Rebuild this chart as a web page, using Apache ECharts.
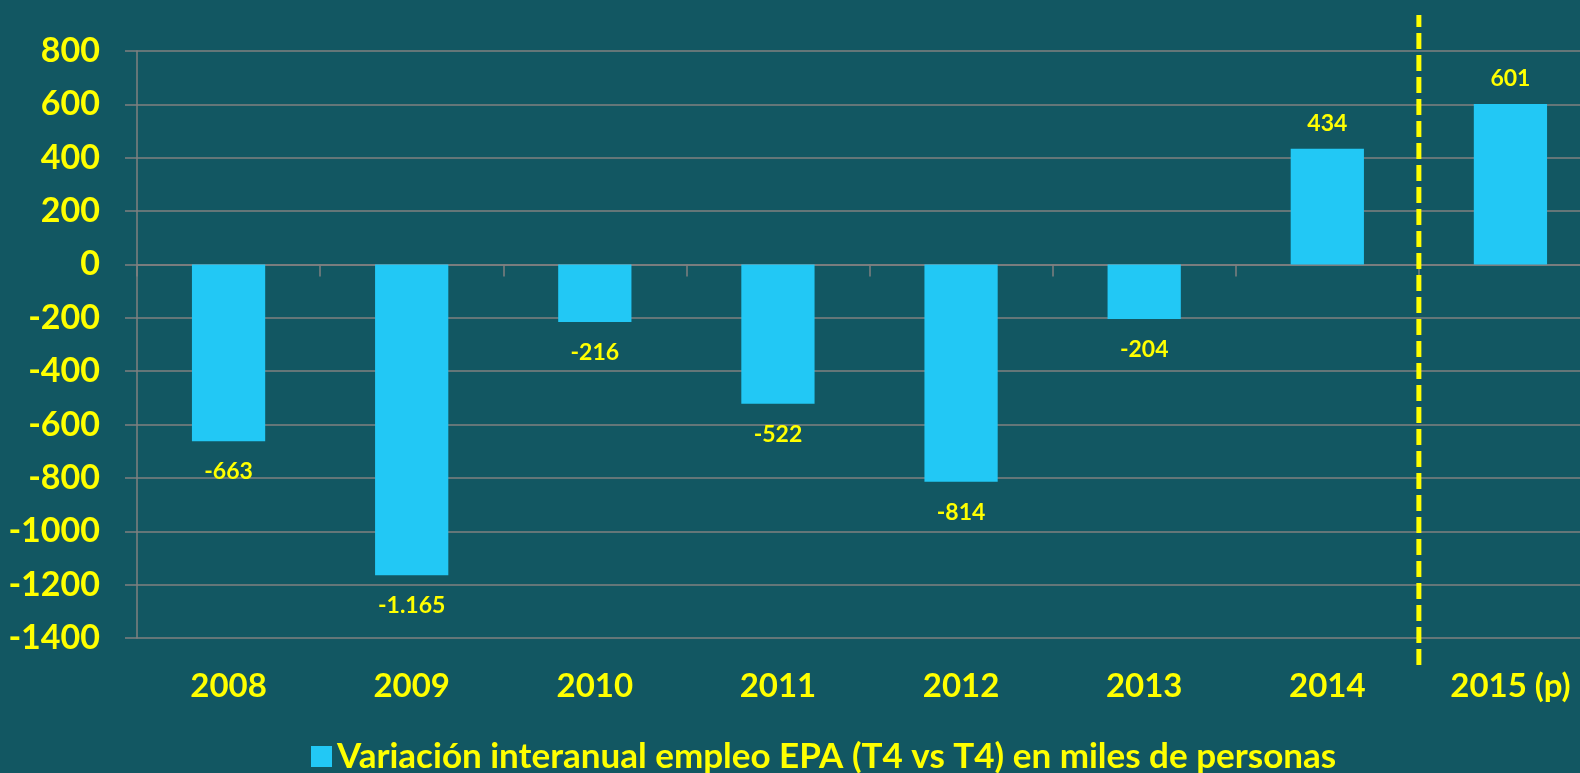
<!DOCTYPE html>
<html>
<head>
<meta charset="utf-8">
<script src="https://cdn.jsdelivr.net/npm/echarts@6/dist/echarts.min.js"></script>
<style>
  html, body { margin: 0; padding: 0; background: #125762; }
  #empleo { width: 1580px; height: 773px; }
</style>
</head>
<body>
<div id="empleo"></div>
<script>
var years = ['2008', '2009', '2010', '2011', '2012', '2013', '2014', '2015 (p)'];
var variacion = [-663, -1165, -216, -522, -814, -204, 434, 601];
var serieName = 'Variación interanual empleo EPA (T4 vs T4) en miles de personas';
// dashed divider sits before the forecast year
var dividerAt = years.indexOf('2015 (p)');

var amarillo = '#ffff00';
var gris = '#808080';
var fuente = 'Lato';

function miles(v) {
    var s = String(Math.abs(v)).replace(/\B(?=(\d{3})+(?!\d))/g, '.');
    return (v < 0 ? '-' : '') + s;
}

var empleoChart = echarts.init(document.getElementById('empleo'));

// negative labels sit a bit further from the bar end
var barData = variacion.map(function (v) {
    return { value: v, label: { distance: v < 0 ? 19 : 14 } };
});

option = {
    backgroundColor: '#125762',
    animation: false,
    textStyle: { fontFamily: fuente },
    grid: [
        { left: 137, width: 1465, top: 51, bottom: 135, outerBoundsMode: 'none' },
        // taller grid, only used for the dashed divider
        { left: 137, width: 1465, top: 15, bottom: 108, outerBoundsMode: 'none' }
    ],
    legend: {
        left: 306,
        top: 734,
        itemWidth: 21,
        itemHeight: 21,
        itemGap: 9,
        icon: 'rect',
        textStyle: { color: amarillo, fontSize: 35, fontWeight: 'bold', fontFamily: fuente },
        data: [serieName]
    },
    xAxis: [{
        type: 'category',
        data: years,
        gridIndex: 0,
        position: 'bottom',
        axisLine: { show: false, onZero: false },
        axisTick: { show: false },
        axisLabel: { color: amarillo, fontSize: 33, fontWeight: 'bold', margin: 32 }
    }, {
        type: 'category',
        data: years,
        gridIndex: 0,
        position: 'bottom',
        axisLine: { show: true, onZero: true, lineStyle: { color: gris, width: 1.5 } },
        axisTick: { show: true, length: 12, lineStyle: { color: gris, width: 1.5 } },
        axisLabel: { show: false }
    }, {
        type: 'value',
        gridIndex: 1,
        min: 0,
        max: years.length,
        show: false
    }],
    yAxis: [{
        type: 'value',
        gridIndex: 0,
        min: -1400,
        max: 800,
        interval: 200,
        axisLine: { show: true, lineStyle: { color: gris, width: 1.5 } },
        axisTick: { show: true, length: 12, lineStyle: { color: gris, width: 1.5 } },
        splitLine: { show: true, lineStyle: { color: gris, width: 1.5 } },
        axisLabel: {
            color: amarillo, fontSize: 34, fontWeight: 'bold', margin: 37,
            formatter: function (v) { return String(v); }
        }
    }, {
        type: 'value',
        gridIndex: 1,
        min: 0,
        max: 1,
        show: false
    }],
    series: [{
        name: serieName,
        type: 'bar',
        xAxisIndex: 0,
        yAxisIndex: 0,
        data: barData,
        barWidth: '40%',
        itemStyle: { color: '#22c8f5' },
        label: {
            show: true,
            position: 'outside',
            color: amarillo,
            fontSize: 23,
            fontWeight: 'bold',
            formatter: function (p) { return miles(p.value); }
        }
    }, {
        name: 'divisor',
        type: 'line',
        xAxisIndex: 2,
        yAxisIndex: 1,
        data: [[dividerAt, 0], [dividerAt, 1]],
        symbol: 'none',
        silent: true,
        lineStyle: { color: amarillo, width: 5, type: [16, 6] }
    }]
};
empleoChart.setOption(option);
window.addEventListener('resize', empleoChart.resize);
</script>
</body>
</html>
